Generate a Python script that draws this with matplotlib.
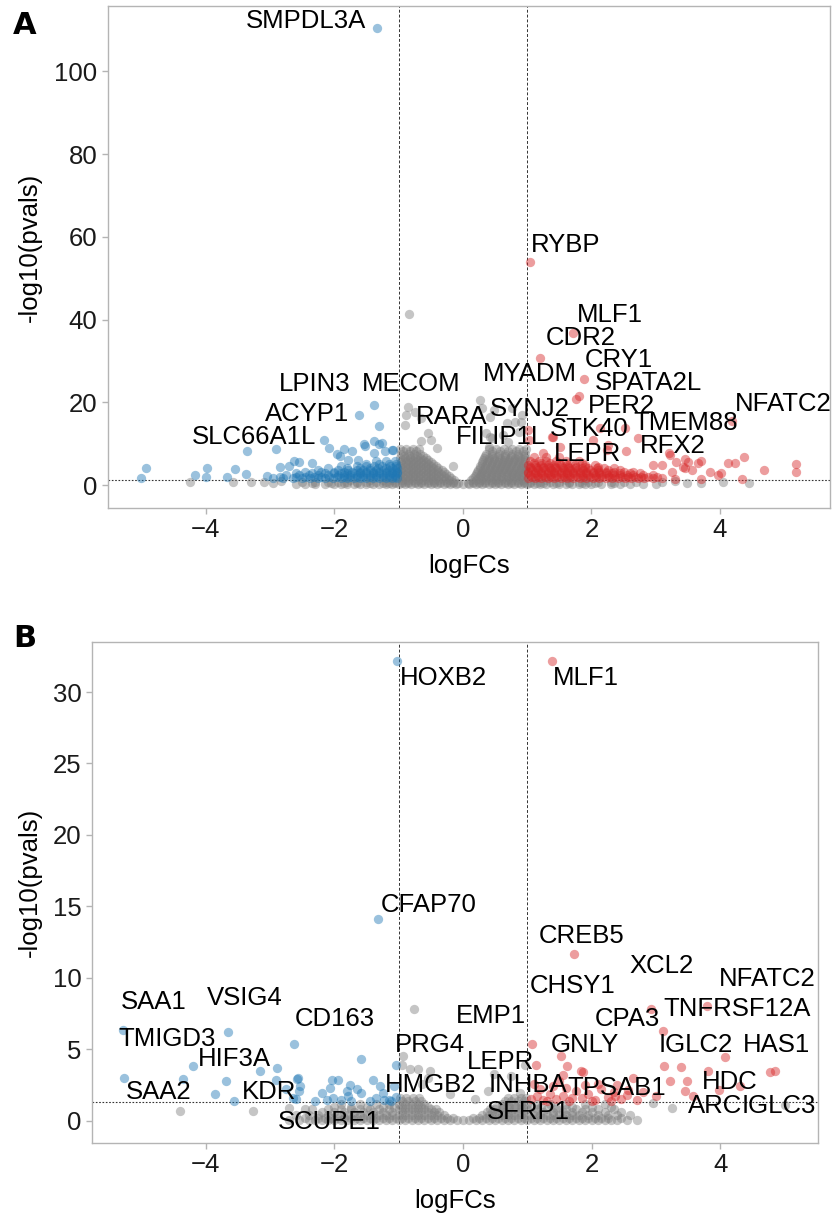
import matplotlib
matplotlib.use("Agg")
import matplotlib.pyplot as plt

plt.rcParams["font.family"] = ["Liberation Sans", "DejaVu Sans"]

BLUE = "#1f77b4"
RED = "#d62728"
GREY = "grey"

# ---------------- panel A data (logFC, -log10 p) ----------------
GRAY_A_SPARSE = [
    (-0.84, 41.3), (-0.85, 18.8), (-0.88, 16.9), (-0.75, 17.7), (-0.65, 16.1),
    (-0.90, 14.5), (-0.55, 12.5), (-0.65, 10.7), (-0.49, 10.9), (-0.41, 8.9),
    (-0.15, 4.6), (0.26, 20.6), (0.29, 18.5), (0.48, 18.1), (0.42, 16.5),
    (0.76, 18.5), (0.92, 16.9), (0.81, 15.3), (0.68, 14.9), (0.91, 15.3),
    (0.36, 12.5), (0.42, 11.7), (0.46, 11.3), (0.41, 9.3), (0.70, 10.5),
    (0.62, 12.2), (0.88, 12.8), (-4.25, 0.8), (-3.58, 0.8), (-3.30, 0.7),
    (-3.09, 0.8), (-2.83, 0.9), (-2.95, 0.5), (3.09, 0.8), (3.30, 1.0),
    (3.48, 0.6), (4.04, 0.8), (4.45, 0.5), (3.70, 0.4),
]
# rows of the dense grey cloud: (-log10 p, [logFC ...])
GRAY_A_ROWS = [
    (0.2, [-2.6, -2.45, -2.3, -2.15, -2.0, -1.9, -1.8, -1.7, -1.6, -1.5, -1.4,
           -1.3, -1.2, -1.1, -1.0, -0.9, -0.8, -0.7, -0.6, -0.5, -0.4, -0.3,
           -0.2, -0.1, 0.0, 0.1, 0.2, 0.3, 0.4, 0.5, 0.6, 0.7, 0.8, 0.9, 1.0,
           1.1, 1.2, 1.3, 1.4, 1.5, 1.6, 1.7, 1.8, 1.9, 2.0, 2.15, 2.3, 2.45,
           2.6, 2.8, 3.0]),
    (0.5, [-2.35, -2.05, -1.85, -1.65, -1.45, -1.25, -1.15, -1.05, -0.95,
           -0.85, -0.75, -0.65, -0.55, -0.45, -0.35, -0.25, -0.15, -0.08, 0.08,
           0.15, 0.25, 0.35, 0.45, 0.55, 0.65, 0.75, 0.85, 0.95, 1.05, 1.15,
           1.25, 1.45, 1.65, 1.85, 2.05, 2.35]),
    (0.8, [-2.5, -2.3, -2.1, -1.95, -1.8, -1.65, -1.5, -1.35, -1.2, -1.05,
           -0.95, -0.85, -0.75, -0.65, -0.55, -0.45, -0.35, -0.25, -0.15,
           0.15, 0.25, 0.35, 0.45, 0.55, 0.65, 0.75, 0.85, 0.95, 1.05, 1.2,
           1.35, 1.5, 1.65, 1.8, 1.95, 2.1, 2.3, 2.5, 2.7]),
    (1.1, [-1.75, -1.45, -1.25, -1.1, -0.94, -0.86, -0.78, -0.7, -0.62, -0.54,
           -0.46, -0.38, -0.3, -0.22, -0.14, 0.12, 0.2, 0.28, 0.36, 0.44, 0.52,
           0.6, 0.68, 0.76, 0.84, 0.92, 1.1, 1.3, 1.6, 1.9]),
    (1.6, [-0.98, -0.9, -0.82, -0.74, -0.66, -0.58, -0.5, -0.42, -0.34, -0.26,
           -0.18, 0.15, 0.23, 0.31, 0.39, 0.47, 0.55, 0.63, 0.71, 0.79, 0.87,
           0.95]),
    (2.1, [-0.94, -0.86, -0.78, -0.7, -0.62, -0.54, -0.46, -0.38, -0.3, -0.22,
           0.19, 0.27, 0.35, 0.43, 0.51, 0.59, 0.67, 0.75, 0.83, 0.91]),
    (2.6, [-0.98, -0.9, -0.82, -0.74, -0.66, -0.58, -0.5, -0.42, -0.34, -0.26,
           0.2, 0.28, 0.36, 0.44, 0.52, 0.6, 0.68, 0.76, 0.84, 0.92, 0.98]),
    (3.1, [-0.94, -0.86, -0.78, -0.7, -0.62, -0.54, -0.46, -0.38, -0.3,
           0.22, 0.3, 0.38, 0.46, 0.54, 0.62, 0.7, 0.78, 0.86, 0.94]),
    (3.6, [-0.97, -0.89, -0.81, -0.73, -0.65, -0.57, -0.49, -0.41, -0.33,
           0.24, 0.32, 0.4, 0.48, 0.56, 0.64, 0.72, 0.8, 0.88, 0.96]),
    (4.1, [-0.94, -0.86, -0.78, -0.7, -0.62, -0.54, -0.46, -0.38,
           0.26, 0.34, 0.42, 0.5, 0.58, 0.66, 0.74, 0.82, 0.9, 0.97]),
    (4.6, [-0.98, -0.9, -0.82, -0.74, -0.66, -0.58, -0.5, -0.42,
           0.27, 0.35, 0.43, 0.51, 0.59, 0.67, 0.75, 0.83, 0.91, 0.98]),
    (5.1, [-0.94, -0.86, -0.78, -0.7, -0.62, -0.54, -0.46,
           0.29, 0.37, 0.45, 0.53, 0.61, 0.69, 0.77, 0.85, 0.93]),
    (5.6, [-0.97, -0.89, -0.81, -0.73, -0.65, -0.57, -0.49,
           0.3, 0.38, 0.46, 0.54, 0.62, 0.7, 0.78, 0.86, 0.94]),
    (6.1, [-0.94, -0.86, -0.78, -0.7, -0.62, -0.54,
           0.32, 0.4, 0.48, 0.56, 0.64, 0.72, 0.8, 0.88, 0.96]),
    (6.6, [-0.98, -0.9, -0.82, -0.74, -0.66, -0.58,
           0.33, 0.41, 0.49, 0.57, 0.65, 0.73, 0.81, 0.89, 0.97]),
    (7.1, [-0.92, -0.82, -0.72, -0.62, 0.35, 0.45, 0.55, 0.65, 0.75, 0.85, 0.95]),
    (7.6, [-0.96, -0.86, -0.76, -0.66, 0.36, 0.46, 0.56, 0.66, 0.76, 0.86, 0.96]),
    (8.1, [-0.93, -0.83, -0.73, 0.45, 0.58, 0.7, 0.82, 0.94]),
    (8.6, [-0.98, -0.88, -0.78, -0.68, 0.4, 0.52, 0.64, 0.76, 0.88, 0.98]),
]
BLUE_A_SPARSE = [
    (-1.34, 110.5), (-5.00, 1.8), (-4.93, 4.0), (-4.17, 2.4), (-4.00, 2.0),
    (-3.98, 4.0), (-3.67, 1.9), (-3.55, 3.8), (-3.36, 8.1), (-3.37, 2.6),
    (-3.04, 2.2), (-2.91, 8.6), (-2.84, 4.3), (-2.70, 4.6), (-2.63, 5.9),
    (-2.55, 5.6), (-2.35, 5.3), (-2.16, 11.0), (-2.08, 9.0), (-1.96, 7.5),
    (-1.91, 7.0), (-1.85, 8.6), (-1.78, 6.0), (-1.73, 8.1), (-1.62, 16.9),
    (-1.39, 19.3), (-1.31, 14.3), (-1.53, 9.5), (-1.38, 10.7), (-1.30, 9.9),
    (-1.39, 7.7), (-1.21, 8.1), (-1.11, 8.5), (-1.54, 9.9), (-1.63, 6.0),
    (-1.26, 10.2), (-1.08, 8.5),
]
BLUE_A_ROWS = [
    (1.6, [-2.95, -2.8, -2.65, -2.5, -2.38, -2.26, -2.14, -2.02, -1.9, -1.8,
           -1.7, -1.6, -1.5, -1.4, -1.3, -1.2, -1.1, -1.02]),
    (2.0, [-2.85, -2.6, -2.45, -2.32, -2.2, -2.08, -1.96, -1.85, -1.75, -1.65,
           -1.55, -1.45, -1.35, -1.25, -1.15, -1.06]),
    (2.4, [-2.75, -2.55, -2.4, -2.25, -2.1, -1.95, -1.85, -1.75, -1.65, -1.55,
           -1.45, -1.35, -1.25, -1.15, -1.05]),
    (2.8, [-2.6, -2.35, -2.15, -2.0, -1.9, -1.8, -1.7, -1.6, -1.5, -1.4, -1.3,
           -1.2, -1.1, -1.02]),
    (3.2, [-2.45, -2.2, -2.0, -1.85, -1.72, -1.6, -1.5, -1.4, -1.3, -1.2,
           -1.1, -1.02]),
    (3.6, [-2.25, -1.95, -1.78, -1.65, -1.55, -1.45, -1.35, -1.25, -1.15,
           -1.05]),
    (4.0, [-2.1, -1.8, -1.6, -1.45, -1.32, -1.2, -1.1, -1.02]),
    (4.5, [-1.9, -1.65, -1.5, -1.38, -1.26, -1.14, -1.04]),
    (5.0, [-1.5, -1.3, -1.15, -1.04]),
    (5.8, [-1.35, -1.2, -1.06]),
]
RED_A_SPARSE = [
    (1.04, 54.0), (1.72, 36.8), (1.20, 30.8), (1.88, 25.6), (1.80, 21.6),
    (1.76, 20.7), (1.38, 11.7), (2.02, 10.9), (2.13, 13.7), (2.52, 13.7),
    (2.72, 11.3), (2.54, 8.2), (2.24, 8.5), (3.20, 7.7), (1.51, 9.3),
    (1.24, 7.7), (1.02, 13.3), (1.03, 11.0), (4.18, 15.5), (3.31, 5.6),
    (3.45, 6.4), (3.42, 4.4), (3.66, 5.4), (3.56, 3.6), (3.84, 3.2),
    (4.02, 2.8), (4.13, 5.2), (4.23, 5.2), (4.38, 6.7), (4.68, 3.6),
    (5.18, 5.0), (5.18, 3.1), (4.34, 1.5), (3.70, 1.5), (3.70, 5.9),
    (3.50, 5.6), (3.22, 7.3), (3.45, 4.0), (3.25, 3.2), (3.10, 4.8),
    (2.96, 4.8), (3.97, 2.4), (3.30, 1.4), (2.26, 9.7), (1.40, 11.5),
]
RED_A_ROWS = [
    (1.6, [1.02, 1.12, 1.22, 1.32, 1.42, 1.52, 1.62, 1.72, 1.82, 1.92, 2.02,
           2.12, 2.22, 2.32, 2.42, 2.52, 2.62, 2.72, 2.82, 2.95, 3.1]),
    (2.0, [1.07, 1.17, 1.27, 1.37, 1.47, 1.57, 1.67, 1.77, 1.87, 1.97, 2.07,
           2.17, 2.27, 2.37, 2.47, 2.57, 2.67, 2.77, 2.88, 3.02]),
    (2.4, [1.05, 1.15, 1.25, 1.35, 1.45, 1.55, 1.65, 1.75, 1.85, 1.95, 2.05,
           2.15, 2.25, 2.35, 2.45, 2.55, 2.65, 2.8, 2.95]),
    (2.8, [1.02, 1.12, 1.22, 1.32, 1.42, 1.52, 1.62, 1.72, 1.82, 1.92, 2.02,
           2.12, 2.22, 2.32, 2.45, 2.6, 2.75]),
    (3.2, [1.02, 1.12, 1.22, 1.32, 1.42, 1.52, 1.62, 1.72, 1.82, 1.92, 2.02,
           2.12, 2.22, 2.35, 2.5, 2.65]),
    (3.6, [1.07, 1.17, 1.27, 1.37, 1.47, 1.57, 1.67, 1.77, 1.87, 1.97, 2.1,
           2.25, 2.45]),
    (4.0, [1.05, 1.15, 1.25, 1.35, 1.45, 1.55, 1.65, 1.75, 1.85, 1.95, 2.08,
           2.2, 2.35]),
    (4.4, [1.04, 1.14, 1.24, 1.34, 1.44, 1.54, 1.64, 1.76, 1.9, 2.1]),
    (4.8, [1.02, 1.12, 1.22, 1.32, 1.42, 1.52, 1.62, 1.75, 1.9, 2.05]),
    (5.3, [1.1, 1.22, 1.36, 1.5, 1.66, 1.85]),
    (5.8, [1.05, 1.18, 1.3, 1.45, 1.6, 1.8]),
    (6.8, [1.1, 1.3, 1.5]),
]
GENES_A = ["SMPDL3A", "RYBP", "MLF1", "CDR2", "CRY1", "MYADM", "SPATA2L",
           "LPIN3", "MECOM", "ACYP1", "SLC66A1L", "RARA", "SYNJ2", "FILIP1L",
           "STK40", "TMEM88", "PER2", "LEPR", "RFX2", "NFATC2"]
LABEL_XY_A = [(-2.44, 112.2), (1.60, 58.0), (2.29, 41.2), (1.84, 35.6),
              (2.43, 30.1), (1.04, 26.8), (2.88, 24.6), (-2.30, 24.4),
              (-0.81, 24.4), (-2.43, 17.2), (-3.25, 11.6), (-0.17, 16.4),
              (1.04, 18.4), (0.59, 11.6), (1.97, 13.6), (3.46, 15.0),
              (2.46, 19.0), (1.94, 7.6), (3.27, 9.4), (4.98, 19.6)]

# ---------------- panel B data ----------------
GRAY_B_SPARSE = [
    (-0.76, 7.8), (-0.93, 4.5), (-0.95, 3.9), (-0.82, 3.6), (-0.70, 3.6),
    (-0.51, 3.45), (-0.54, 3.0), (-0.64, 2.6), (-0.20, 1.9), (0.19, 1.5),
    (0.48, 3.3), (0.39, 2.05), (0.74, 3.1), (0.89, 1.94), (0.96, 3.9),
    (-4.40, 0.65), (-3.26, 0.65), (2.96, 1.24), (3.25, 0.9), (5.00, 1.1),
    (-2.70, 0.9), (-2.45, 0.8),
]
GRAY_B_ROWS = [
    (0.05, [-2.7, -2.55, -2.4, -2.3, -2.2, -2.1, -2.0, -1.9, -1.8, -1.7, -1.6,
            -1.5, -1.4, -1.3, -1.2, -1.1, -1.0, -0.9, -0.8, -0.7, -0.6, -0.5,
            -0.4, -0.3, -0.2, -0.1, 0.0, 0.1, 0.2, 0.3, 0.4, 0.5, 0.6, 0.7,
            0.8, 0.9, 1.0, 1.1, 1.2, 1.3, 1.4, 1.5, 1.6, 1.7, 1.8, 1.9, 2.0,
            2.1, 2.2, 2.3, 2.4, 2.55, 2.7]),
    (0.22, [-2.45, -2.25, -2.15, -2.05, -1.95, -1.85, -1.75, -1.65, -1.55,
            -1.45, -1.35, -1.25, -1.15, -1.05, -0.95, -0.85, -0.75, -0.65,
            -0.55, -0.45, -0.35, -0.25, -0.15, 0.15, 0.25, 0.35, 0.45, 0.55,
            0.65, 0.75, 0.85, 0.95, 1.05, 1.15, 1.25, 1.35, 1.45, 1.55, 1.65,
            1.75, 1.85, 1.95, 2.05, 2.15, 2.25, 2.45]),
    (0.4, [-2.6, -2.4, -2.25, -2.1, -1.95, -1.8, -1.7, -1.6, -1.5, -1.4, -1.3,
           -1.2, -1.1, -1.0, -0.9, -0.8, -0.7, -0.6, -0.5, -0.4, -0.3, 0.3,
           0.4, 0.5, 0.6, 0.7, 0.8, 0.9, 1.0, 1.1, 1.2, 1.3, 1.4, 1.5, 1.6,
           1.7, 1.8, 1.95, 2.1, 2.25, 2.4, 2.6]),
    (0.6, [-2.2, -2.0, -1.85, -1.7, -1.55, -1.4, -1.25, -1.1, -0.95, -0.85,
           -0.75, -0.65, -0.55, -0.45, -0.37, 0.37, 0.45, 0.55, 0.65, 0.75,
           0.85, 0.95, 1.1, 1.25, 1.4, 1.55, 1.7, 1.85, 2.0, 2.2, 2.45]),
    (0.8, [-2.35, -2.1, -1.9, -1.75, -1.6, -1.45, -1.3, -1.15, -1.0, -0.9,
           -0.8, -0.7, -0.6, -0.5, -0.42, 0.42, 0.5, 0.6, 0.7, 0.8, 0.9, 1.0,
           1.15, 1.3, 1.45, 1.6, 1.75, 1.9, 2.1, 2.35]),
    (0.98, [-2.0, -1.75, -1.5, -1.25, -1.08, -0.95, -0.85, -0.75, -0.65,
            -0.55, 0.52, 0.62, 0.72, 0.82, 0.92, 1.05, 1.22, 1.45, 1.7, 2.0,
            2.3]),
    (1.15, [-1.9, -1.6, -1.35, -1.15, -1.0, -0.9, -0.8, -0.7, -0.6, 0.6, 0.7,
            0.8, 0.9, 1.0, 1.15, 1.35, 1.6, 1.9, 2.2]),
    (1.38, [-0.95, -0.85, -0.75, -0.65, 0.65, 0.75, 0.85, 0.95]),
    (1.6, [-0.98, -0.88, -0.78, -0.68, 0.7, 0.8, 0.9, 0.98]),
]
BLUE_B = [
    (-1.03, 32.2), (-1.32, 14.1), (-5.29, 6.36), (-3.65, 6.2), (-2.63, 5.4),
    (-4.20, 3.85), (-3.16, 3.5), (-2.90, 3.7), (-5.28, 2.96), (-4.35, 2.9),
    (-3.69, 2.8), (-3.86, 1.9), (-3.56, 1.35), (-2.56, 3.0), (-2.53, 2.45),
    (-2.59, 1.5), (-2.55, 2.05), (-2.20, 1.94), (-2.07, 2.3), (-2.04, 2.87),
    (-1.94, 2.87), (-1.81, 2.05), (-2.02, 1.6), (-1.58, 4.35), (-1.04, 3.9),
    (-1.40, 2.87), (-1.76, 2.5), (-1.59, 1.95), (-1.29, 2.4), (-1.08, 2.4),
    (-1.23, 1.47), (-1.79, 1.7), (-2.91, 2.87), (-2.58, 2.9), (-2.65, 1.6),
    (-2.76, 2.2), (-1.75, 1.4), (-1.35, 1.6), (-1.15, 1.45), (-1.05, 1.65),
    (-1.45, 1.4), (-1.90, 1.45), (-2.30, 1.4), (-1.65, 2.2), (-1.25, 1.95),
    (-1.12, 1.35), (-2.12, 1.45),
]
RED_B = [
    (1.38, 32.2), (1.73, 11.7), (2.92, 7.8), (3.80, 8.0), (3.11, 6.25),
    (4.07, 4.45), (3.12, 3.85), (3.39, 3.75), (3.81, 3.45), (4.77, 3.4),
    (4.85, 3.5), (3.22, 2.75), (3.48, 2.75), (4.31, 2.45), (3.45, 2.05),
    (3.57, 1.7), (3.00, 1.75), (2.65, 3.0), (2.57, 2.17), (1.84, 3.45),
    (2.36, 1.7), (1.07, 5.4), (1.14, 3.9), (1.53, 4.5), (1.62, 3.85),
    (1.86, 3.4), (1.55, 3.2), (3.98, 2.17), (1.05, 1.5), (1.15, 1.7),
    (1.25, 1.45), (1.35, 1.9), (1.45, 1.55), (1.55, 1.75), (1.65, 1.4),
    (1.75, 2.1), (1.85, 1.6), (1.95, 1.85), (2.05, 1.45), (2.15, 2.2),
    (2.25, 1.65), (2.35, 2.0), (2.45, 1.5), (1.20, 2.2), (1.40, 2.4),
    (1.60, 2.3), (1.90, 2.5), (2.10, 2.6), (2.40, 2.5), (1.30, 1.35),
    (1.70, 1.6), (2.00, 1.35), (2.30, 1.4), (2.55, 1.8), (2.70, 1.45),
    (2.80, 2.0), (1.10, 2.6), (1.50, 2.75),
]
GENES_B = ["HOXB2", "MLF1", "CFAP70", "CREB5", "XCL2", "NFATC2", "CHSY1",
           "SAA1", "VSIG4", "TNFRSF12A", "CD163", "EMP1", "CPA3", "TMIGD3",
           "PRG4", "GNLY", "IGLC2", "HAS1", "HIF3A", "LEPR", "HDC", "SAA2",
           "KDR", "HMGB2", "INHBA", "TPSAB1", "ARC", "IGLC3", "SFRP1", "SCUBE1"]
LABEL_XY_B = [(-0.31, 31.0), (1.91, 31.0), (-0.54, 15.1), (1.85, 12.9),
              (3.09, 10.8), (4.73, 9.9), (1.70, 9.4), (-4.81, 8.3),
              (-3.39, 8.6), (4.26, 7.8), (-1.99, 7.1), (0.44, 7.3),
              (2.55, 7.1), (-4.60, 5.7), (-0.51, 5.3), (1.90, 5.3),
              (3.62, 5.3), (4.88, 5.3), (-3.55, 4.3), (0.58, 4.1),
              (4.14, 2.7), (-4.73, 2.0), (-3.02, 2.0), (-0.50, 2.5),
              (1.01, 2.5), (2.39, 2.3), (3.92, 1.0), (4.91, 1.0),
              (1.01, 0.6), (-2.08, -0.1)]

FS = 18.5


def flatten(rows):
    return [(x, y) for y, xs in rows for x in xs]


def volcano(ax, gray, blue, red, genes, label_xy, xlim, ylim, yticks):
    for pts, color in ((gray, GREY), (blue, BLUE), (red, RED)):
        xs, ys = zip(*pts)
        ax.scatter(xs, ys, s=45, c=color, alpha=0.45, linewidths=0, zorder=2)

    for x in (-1, 1):
        ax.axvline(x, color="#333333", lw=0.7, ls=(0, (3, 2)), zorder=1)
    ax.axhline(1.3, color="#333333", lw=0.8, ls=(0, (1.5, 1.5)), zorder=1)

    for name, (tx, ty) in zip(genes, label_xy):
        ax.text(tx, ty, name, fontsize=FS, ha="center", va="center", zorder=3)

    ax.set_xlim(xlim)
    ax.set_ylim(ylim)
    ax.set_xticks([-4, -2, 0, 2, 4])
    ax.set_yticks(yticks)
    ax.set_xlabel("logFCs", fontsize=FS, labelpad=8)
    ax.set_ylabel("-log10(pvals)", fontsize=FS)
    for sp in ax.spines.values():
        sp.set_color("#b4b4b4")
        sp.set_linewidth(1.0)
    ax.tick_params(labelsize=FS, color="#b4b4b4", length=4, width=1,
                   labelcolor="#1a1a1a")


fig = plt.figure(figsize=(8.33, 12.15), dpi=100)

ax_a = fig.add_axes([108 / 833, 1 - 508 / 1215, 722 / 833, 502 / 1215])
volcano(ax_a,
        GRAY_A_SPARSE + flatten(GRAY_A_ROWS),
        BLUE_A_SPARSE + flatten(BLUE_A_ROWS),
        RED_A_SPARSE + flatten(RED_A_ROWS),
        GENES_A, LABEL_XY_A, (-5.52, 5.71), (-5.56, 115.8),
        [0, 20, 40, 60, 80, 100])
ax_a.yaxis.set_label_coords(-0.091, 0.52)

ax_b = fig.add_axes([92 / 833, 1 - 1143 / 1215, 726 / 833, 501 / 1215])
volcano(ax_b,
        GRAY_B_SPARSE + flatten(GRAY_B_ROWS),
        BLUE_B, RED_B,
        GENES_B, LABEL_XY_B, (-5.77, 5.52), (-1.56, 33.5),
        [0, 5, 10, 15, 20, 25, 30])
ax_b.yaxis.set_label_coords(-0.069, 0.52)

fig.text(13 / 833, 1 - 34 / 1215, "A", fontsize=22, fontweight="bold",
         family="DejaVu Sans", va="baseline")
fig.text(13 / 833, 1 - 647 / 1215, "B", fontsize=22, fontweight="bold",
         family="DejaVu Sans", va="baseline")

fig.savefig("out.png", dpi=100)
